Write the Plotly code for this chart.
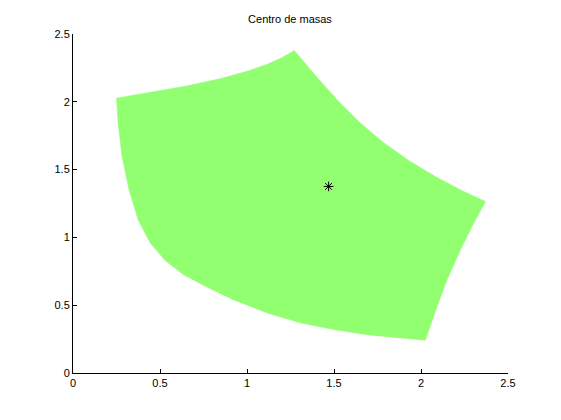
import plotly.graph_objects as go

# boundary of the region (closed polygon, clockwise from top-left)
# top edge
top_x = [0.250, 0.450, 0.650, 0.850, 1.000, 1.120, 1.200, 1.272]
top_y = [2.027, 2.069, 2.116, 2.172, 2.225, 2.279, 2.325, 2.379]
# upper-right edge
outer_x = [1.400, 1.520, 1.650, 1.780, 1.930, 2.090, 2.240, 2.371]
outer_y = [2.184, 2.012, 1.845, 1.703, 1.567, 1.443, 1.342, 1.265]
# right edge
right_x = [2.303, 2.227, 2.150, 2.093, 2.054, 2.025]
right_y = [1.106, 0.909, 0.689, 0.492, 0.345, 0.242]
# lower edge
bottom_x = [1.881, 1.690, 1.498, 1.306, 1.115, 0.921]
bottom_y = [0.259, 0.283, 0.320, 0.370, 0.443, 0.541]
# left curved edge
left_x = [0.760, 0.633, 0.529, 0.443, 0.374, 0.322, 0.282, 0.259, 0.250]
left_y = [0.640, 0.727, 0.830, 0.960, 1.130, 1.351, 1.594, 1.844, 2.027]

# centre of mass
cm_x = [1.469]
cm_y = [1.376]

tick_vals = [0, 0.5, 1, 1.5, 2, 2.5]
tick_text = ["0", "0.5", "1", "1.5", "2", "2.5"]

green = 'rgb(145,255,112)'

region_x = top_x + outer_x + right_x + bottom_x + left_x
region_y = top_y + outer_y + right_y + bottom_y + left_y

fig = go.Figure()
fig.add_trace(go.Scatter(
    x=region_x, y=region_y,
    mode='lines',
    fill='toself',
    fillcolor=green,
    line=dict(width=0.5, color=green),
    hoverinfo='skip',
    showlegend=False
))
fig.add_trace(go.Scatter(
    x=cm_x, y=cm_y,
    mode='markers',
    marker=dict(symbol='asterisk-open', size=8, color='black',
                line=dict(width=1, color='black')),
    showlegend=False
))

axis_style = dict(
    range=[0, 2.5],
    tickvals=tick_vals,
    ticktext=tick_text,
    ticks='inside',
    ticklen=4,
    tickcolor='black',
    showline=True,
    linecolor='black',
    linewidth=1,
    showgrid=False,
    zeroline=False,
    tickfont=dict(family='Liberation Sans, Arial, sans-serif', size=11, color='black'),
)

# the page body adds an 8px offset, so margins are shifted by that amount
fig.update_layout(
    width=561,
    height=420,
    margin=dict(l=65, r=61, t=26, b=55, pad=0),
    paper_bgcolor='white',
    plot_bgcolor='white',
    title=dict(
        text='Centro de masas',
        x=(282 / 561), xanchor='center',
        y=1 - 11 / 420, yanchor='middle',
        font=dict(family='Liberation Sans, Arial, sans-serif', size=11, color='black')
    ),
    xaxis=axis_style,
    yaxis=axis_style,
)

fig.write_html("out.html")
